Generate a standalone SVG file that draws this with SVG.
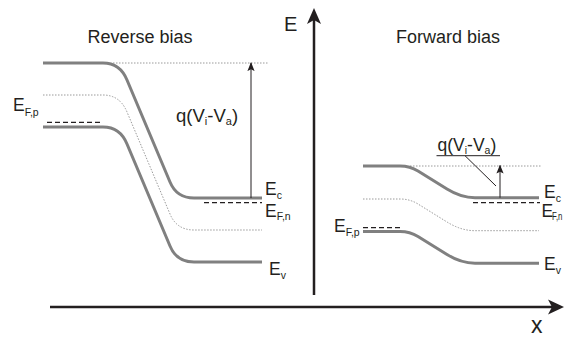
<svg xmlns="http://www.w3.org/2000/svg" width="565" height="338" viewBox="0 0 565 338">
<style>
  text { font-family: "Liberation Sans", Arial, sans-serif; fill: #231f20; }
  .title { font-size: 18px; text-anchor: middle; }
  .lab { font-size: 17.5px; }
  .sub { font-size: 10.5px; }
  .band { fill: none; stroke: #808080; stroke-width: 3; }
  .intr { fill: none; stroke: #9a9a9a; stroke-width: 1; stroke-dasharray: 1.5 1.5; }
  .fermi { fill: none; stroke: #231f20; stroke-width: 1.3; stroke-dasharray: 5 3; }
  .thin { fill: none; stroke: #231f20; stroke-width: 1; }
  .axis { fill: none; stroke: #231f20; stroke-width: 2.5; }
</style>
<defs>
  <marker id="small" viewBox="0 0 10 10" refX="9" refY="5" markerWidth="9" markerHeight="9" markerUnits="userSpaceOnUse" orient="auto">
    <path d="M0,1 L10,5 L0,9 L2,5 Z" fill="#231f20"/>
  </marker>
  <path id="ecL" d="M43,63 H103 Q120,63 127,80 L170,182 Q176.6,198 194,198 H262"/>
  <path id="ecR" d="M363,166 H400 Q410,166 418,171 L447,189 Q461,197.7 475,197.7 H539"/>
</defs>

<g id="axes">
  <line class="axis" x1="314" y1="295" x2="314" y2="18"/>
  <path d="M314,8 L321,24 L314,20 L307,24 Z" fill="#231f20"/>
  <line class="axis" x1="50" y1="307" x2="553" y2="307"/>
  <path d="M564,307 L548,314.5 L552,307 L548,299.5 Z" fill="#231f20"/>
  <text class="lab" x="284" y="31" style="font-size:20px">E</text>
  <text class="lab" x="531" y="333" style="font-size:23px">x</text>
</g>

<g id="reverse-bias">
  <text class="title" x="140" y="43">Reverse bias</text>
  <line class="intr" x1="113" y1="63" x2="268" y2="63"/>
  <use href="#ecL" class="intr" transform="translate(0,32)"/>
  <use href="#ecL" class="band"/>
  <use href="#ecL" class="band" transform="translate(0,64)"/>
  <line class="fermi" x1="47" y1="122.3" x2="101" y2="122.3"/>
  <line class="fermi" x1="204" y1="202.7" x2="262" y2="202.7"/>
  <line class="thin" x1="251" y1="198" x2="251" y2="63" marker-end="url(#small)"/>
  <text class="lab" x="176" y="121.5" style="font-size:18.5px">q(V<tspan class="sub" dy="3" style="font-size:11px">i</tspan><tspan dy="-3">-V</tspan><tspan class="sub" dy="3" style="font-size:11px">a</tspan><tspan dy="-3">)</tspan></text>
  <text class="lab" x="13" y="111">E<tspan class="sub" dy="5">F,p</tspan></text>
  <text class="lab" x="265" y="195">E<tspan class="sub" dy="3.5">c</tspan></text>
  <text class="lab" x="265" y="216.7">E<tspan class="sub" dy="3.5">F,n</tspan></text>
  <text class="lab" x="269" y="275">E<tspan class="sub" dy="3.5">v</tspan></text>
</g>

<g id="forward-bias">
  <text class="title" x="448" y="43">Forward bias</text>
  <line class="intr" x1="410" y1="166" x2="541" y2="166"/>
  <use href="#ecR" class="intr" transform="translate(0,33)"/>
  <use href="#ecR" class="band"/>
  <use href="#ecR" class="band" transform="translate(0,65.5)"/>
  <line class="fermi" x1="363" y1="227.7" x2="403" y2="227.7"/>
  <line class="fermi" x1="473" y1="202.7" x2="540" y2="202.7"/>
  <line class="thin" x1="500" y1="197.7" x2="500" y2="165.5" marker-end="url(#small)"/>
  <line class="thin" x1="436.5" y1="155.7" x2="500" y2="155.7"/>
  <line class="thin" x1="465" y1="155.7" x2="496" y2="186"/>
  <text class="lab" x="437.5" y="150.5">q(V<tspan class="sub" dy="3">i</tspan><tspan dy="-3">-V</tspan><tspan class="sub" dy="3">a</tspan><tspan dy="-3">)</tspan></text>
  <text class="lab" x="334" y="232.3">E<tspan class="sub" dy="3.5">F,p</tspan></text>
  <text class="lab" x="544" y="198.3">E<tspan class="sub" dy="3.5">c</tspan></text>
  <text class="lab" x="541.5" y="216.7">E</text>
  <text class="sub" x="552" y="220.2" textLength="10.5" lengthAdjust="spacingAndGlyphs">F,n</text>
  <text class="lab" x="544" y="270">E<tspan class="sub" dy="3.5">v</tspan></text>
</g>
</svg>
